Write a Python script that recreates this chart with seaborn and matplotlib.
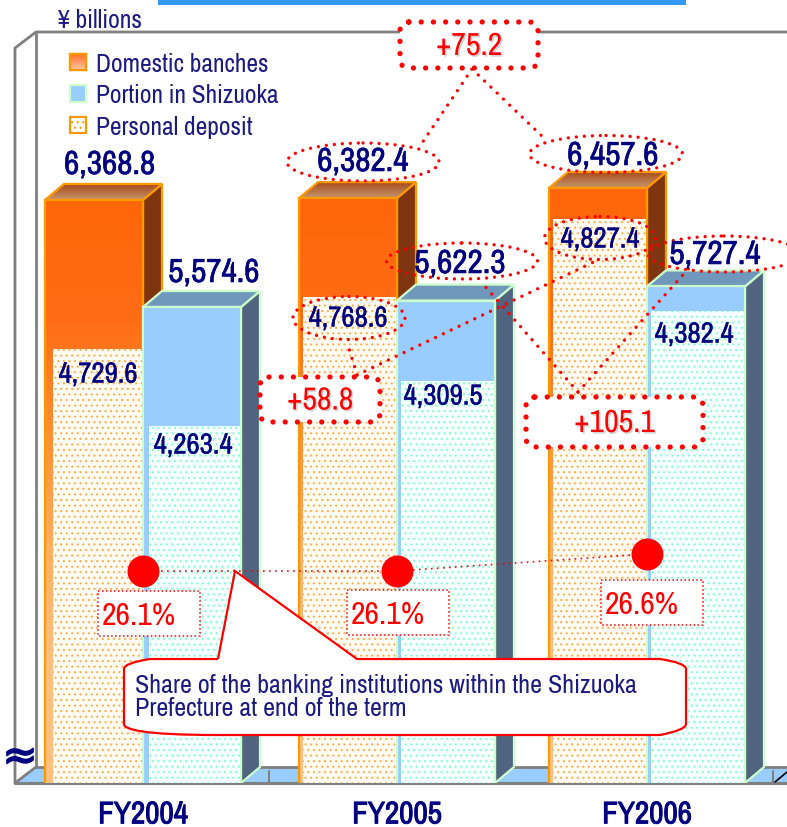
import matplotlib
matplotlib.use("Agg")
import matplotlib.pyplot as plt
import matplotlib.patheffects as pe
import numpy as np
import pandas as pd
import seaborn as sns
from matplotlib import font_manager as fm
from matplotlib.colors import LinearSegmentedColormap
from matplotlib.patches import Ellipse, FancyBboxPatch, PathPatch, Patch, Polygon, Rectangle
from matplotlib.path import Path

# Values in yen billions
years = ["FY2004", "FY2005", "FY2006"]
series_names = ["Domestic banches", "Portion in Shizuoka"]
personal_name = "Personal deposit"
domestic_total = [6368.8, 6382.4, 6457.6]
shizuoka_total = [5574.6, 5622.3, 5727.4]
domestic_personal = [4729.6, 4768.6, 4827.4]
shizuoka_personal = [4263.4, 4309.5, 4382.4]
share_pct = [26.1, 26.1, 26.6]
change_total = "+75.2"
change_shizuoka = "+105.1"
change_personal = "+58.8"
callout_text = ("Share of the banking institutions within the Shizuoka\n"
                "Prefecture at end of the term")

# Layout, in canvas pixels
W, H = 787, 828
BASE_PX = 784
group_x = [143, 397, 647]
BAR_W = 98
DEPTH_X = 19
DEPTH_Y = 16
dom_inset = [8, 4, 4]
shi_inset = [6, 4, 4]

NAVY = "#000080"
TEXT_NAVY = "#1A1A80"
RED = "#FF0000"
ORANGE_EDGE = "#FF9900"
GREEN_EDGE = "#CCFFCC"
BLUE = "#99CCFF"
GREY = "#808080"

sns.set_style("white")
installed = {f.name for f in fm.fontManager.ttflist}
NARROW = next((n for n in ["Liberation Sans Narrow", "Archivo Narrow", "Roboto Condensed",
                           "PT Sans Narrow", "Liberation Sans"] if n in installed), "DejaVu Sans")
plt.rcParams["font.family"] = [NARROW, "DejaVu Sans"]
plt.rcParams["hatch.linewidth"] = 0.8

fig = plt.figure(figsize=(W / 100, H / 100), dpi=100, facecolor="white")


def heavier(width):
    return [pe.withStroke(linewidth=width, foreground=NAVY)]


def full_canvas(z):
    a = fig.add_axes([0, 0, 1, 1], zorder=z)
    a.set_xlim(0, W)
    a.set_ylim(H, 0)
    a.axis("off")
    a.patch.set_alpha(0)
    return a


def value_axes(z, slope, ref_value, ref_px):
    """Axes over the plot area whose broken y scale puts ref_value at ref_px."""
    a = fig.add_axes([0, (H - BASE_PX) / H, 1, BASE_PX / H], zorder=z)
    a.patch.set_alpha(0)
    low = ref_value - (BASE_PX - ref_px) / slope
    a.set_ylim(low, low + BASE_PX / slope)
    a.set_xlim(0, W)
    return a


def gradient(a, clip, extent, stops, z):
    cmap = LinearSegmentedColormap.from_list("g", stops)
    xl, yl = a.get_xlim(), a.get_ylim()
    im = a.imshow(np.linspace(0, 1, 256)[:, None], extent=extent, cmap=cmap,
                  aspect="auto", origin="upper", zorder=z, interpolation="bilinear")
    im.set_clip_path(clip)
    a.set_xlim(xl)
    a.set_ylim(yl)


def bars(a, values, name):
    frame = pd.DataFrame({"x": group_x, "value": values, "group": name})
    before = len(a.patches)
    sns.barplot(data=frame, x="x", y="value", hue="group", hue_order=series_names,
                native_scale=True, width=2 * BAR_W / 250, dodge=True, errorbar=None,
                saturation=1, legend=False, ax=a)
    a.set_xlim(0, W)
    a.set_xlabel("")
    a.set_ylabel("")
    return [p for p in a.patches[before:] if p.get_height() > 0]


# Back wall, floor and axis lines
back = full_canvas(0)
back.add_patch(Rectangle((158, -2), 528, 8, fc="#3399FF", ec="none"))
back.add_patch(Polygon([(15, 784), (36, 768), (W, 768), (W, 784)], fc=BLUE, ec="none"))
back.plot([15, 15, 36, W], [784, 49, 33, 33], color=GREY, lw=2)
back.plot([36, 36], [33, 768], color=GREY, lw=2)
back.plot([36, W], [768, 768], color=GREY, lw=2)
back.plot([15, 36], [784, 768], color=GREY, lw=2)
back.plot([15, W], [784, 784], color=GREY, lw=2.2)
for tick_x in (269, 773):
    back.plot([tick_x, tick_x], [772, 784], color=GREY, lw=1.5)
back.plot([775, W], [783, 773], color="black", lw=1.2)

# Totals, drawn with their extruded faces
SLOPE = 0.1348
ax = value_axes(1, SLOPE, 5574.6, 308)
ylim_main = ax.get_ylim()
ax_low = ylim_main[0]
dy = DEPTH_Y / SLOPE

dom_bars = bars(ax, domestic_total, series_names[0])
shi_bars = bars(ax, shizuoka_total, series_names[1])
ax.set_ylim(ylim_main)

for p in dom_bars:
    x0, x1, v = p.get_x(), p.get_x() + p.get_width(), p.get_height()
    side = Polygon([(x1, ax_low), (x1 + DEPTH_X, ax_low + dy), (x1 + DEPTH_X, v + dy), (x1, v)],
                   fc="#7F3510", ec=ORANGE_EDGE, lw=1.6, zorder=2)
    cap = Polygon([(x0, v), (x1, v), (x1 + DEPTH_X, v + dy), (x0 + DEPTH_X, v + dy)],
                  fc="none", ec=ORANGE_EDGE, lw=1.6, zorder=2.2)
    ax.add_patch(side)
    ax.add_patch(cap)
    gradient(ax, cap, (x0, x1 + DEPTH_X, v, v + dy), ["#A8481A", "#C4986C"], 2.1)
    p.set_zorder(2.4)
    p.set_facecolor("none")
    p.set_edgecolor(ORANGE_EDGE)
    p.set_linewidth(1.6)
    gradient(ax, p, (x0, x1, ax_low, v),
             ["#FF660A", "#FF6C14", "#FF9030", "#FFB060", "#FFC080", "#FFC080"], 2.3)

for p in shi_bars:
    x0, x1, v = p.get_x(), p.get_x() + p.get_width(), p.get_height()
    side = Polygon([(x1, ax_low), (x1 + DEPTH_X, ax_low + dy), (x1 + DEPTH_X, v + dy), (x1, v)],
                   fc="#50647F", ec=GREEN_EDGE, lw=1.6, zorder=3)
    cap = Polygon([(x0, v), (x1, v), (x1 + DEPTH_X, v + dy), (x0 + DEPTH_X, v + dy)],
                  fc="#7098BC", ec=GREEN_EDGE, lw=1.6, zorder=3)
    ax.add_patch(side)
    ax.add_patch(cap)
    p.set_zorder(3.2)
    p.set_facecolor(BLUE)
    p.set_edgecolor(GREEN_EDGE)
    p.set_linewidth(1.6)

ax.set_xticks(group_x, years)
ax.set_yticks([])
ax.tick_params(axis="x", length=0, pad=12.5)
for lab in ax.get_xticklabels():
    lab.set_fontsize(22.5)
    lab.set_color(NAVY)
    lab.set_path_effects(heavier(0.7))
sns.despine(ax=ax, left=True, bottom=True)

# Personal deposits sit on their own broken scales, inset in each front face
ax_dom = value_axes(2, 1.33, 4729.6, 350)
lim = ax_dom.get_ylim()
for p, inset in zip(bars(ax_dom, domestic_personal, series_names[0]), dom_inset):
    p.set_x(p.get_x() + inset)
    p.set_width(p.get_width() - inset - 1)
    p.set_facecolor("#FFFCF6")
    p.set_hatch("...")
    p.set_edgecolor("#FFB04A")
    p.set_linewidth(0)
ax_dom.set_ylim(lim)
ax_dom.axis("off")

ax_shi = value_axes(3, 0.966, 4263.4, 427)
lim = ax_shi.get_ylim()
for p, inset in zip(bars(ax_shi, shizuoka_personal, series_names[1]), shi_inset):
    p.set_x(p.get_x() + inset)
    p.set_width(p.get_width() - inset - 1)
    p.set_facecolor("#F8FFFD")
    p.set_hatch("...")
    p.set_edgecolor("#80FFD8")
    p.set_linewidth(0)
ax_shi.set_ylim(lim)
ax_shi.axis("off")

# Share of the prefecture's banking institutions
ax_share = value_axes(4, 34, 26.1, 572)
lim = ax_share.get_ylim()
sns.lineplot(x=group_x, y=share_pct, color=RED, linestyle=(0, (1, 2.6)), linewidth=1.2,
             marker="o", markersize=23, markeredgewidth=0, ax=ax_share)
ax_share.set_ylim(lim)
ax_share.set_xlim(0, W)
ax_share.axis("off")

# Annotation layer
top = full_canvas(5)
shadow = [pe.withSimplePatchShadow(offset=(1.2, -1.2), shadow_rgbFace="#888888", alpha=0.35)]

links = [((472, 70), (420, 147)), ((472, 70), (545, 140)),
         ((357, 376), (347, 343)), ((357, 376), (600, 260)),
         ((578, 393), (483, 285)), ((578, 393), (690, 268))]
for a_pt, b_pt in links:
    top.plot([a_pt[0], b_pt[0]], [a_pt[1], b_pt[1]], color=RED, lw=2.4,
             linestyle=(0, (0.01, 2.6)), dash_capstyle="round", zorder=3)

ring_style = dict(fc="none", ec=RED, lw=2.4, linestyle=(0, (0.01, 2.4)),
                  capstyle="round", zorder=3)
for cx, cy, w, h in [(363, 163, 152, 38), (606, 155, 153, 37), (462, 262, 151, 36),
                     (724, 255, 152, 36), (349, 319, 112, 43), (600, 239, 111, 43)]:
    top.add_patch(Ellipse((cx, cy), w, h, **ring_style))

box_style = dict(boxstyle="round,pad=0,rounding_size=9", fc="white", ec=RED, lw=3.8,
                 linestyle=(0, (0.01, 2.3)), capstyle="round", zorder=4)
change_boxes = [(400, 23, 138, 46, change_total), (260, 378, 120, 45, change_personal),
                (526, 398, 177, 50, change_shizuoka)]
for bx, by, bw, bh, label in change_boxes:
    top.add_patch(FancyBboxPatch((bx, by), bw, bh, **box_style))
    top.text(bx + bw / 2, by + bh / 2 + 1, label, color=RED, fontsize=23, ha="center",
             va="center", zorder=5, path_effects=shadow)

total_pos = [(110, 166), (214, 274), (363, 163), (460, 265), (613, 157), (715, 256)]
total_vals = [domestic_total[0], shizuoka_total[0], domestic_total[1],
              shizuoka_total[1], domestic_total[2], shizuoka_total[2]]
for (tx, ty), v in zip(total_pos, total_vals):
    top.text(tx, ty, f"{v:,.1f}", color=NAVY, fontsize=24, ha="center", va="center",
             zorder=6, path_effects=heavier(0.4))

inner_pos = [(98, 375), (193, 446), (348, 319), (443, 397), (600, 240), (694, 335)]
inner_vals = [domestic_personal[0], shizuoka_personal[0], domestic_personal[1],
              shizuoka_personal[1], domestic_personal[2], shizuoka_personal[2]]
for (tx, ty), v in zip(inner_pos, inner_vals):
    top.text(tx, ty, f"{v:,.1f}", color=NAVY, fontsize=20.8, ha="center", va="center",
             zorder=6, path_effects=heavier(0.25))

share_boxes = [(98, 592), (347, 591), (601, 581)]
for (bx, by), s in zip(share_boxes, share_pct):
    top.add_patch(Rectangle((bx, by), 102, 45, fc="white", ec=RED, lw=1.1,
                            linestyle=(0, (1, 1.6)), zorder=4))
    top.text(bx + 41, by + 24, f"{s:.1f}%", color=RED, fontsize=23, ha="center",
             va="center", zorder=5)

# Speech bubble describing the share line
verts = [(218, 660), (235, 572), (357, 660), (660, 660),
         (686, 664), (686, 670), (686, 725), (686, 731), (660, 736),
         (218, 736), (140, 736), (124, 730), (124, 725), (124, 670), (124, 664), (150, 660), (218, 660)]
codes = [Path.MOVETO, Path.LINETO, Path.LINETO, Path.LINETO,
         Path.CURVE3, Path.CURVE3, Path.LINETO, Path.CURVE3, Path.CURVE3,
         Path.LINETO, Path.CURVE4, Path.CURVE4, Path.CURVE4, Path.LINETO, Path.CURVE3, Path.CURVE3, Path.LINETO]
top.add_patch(PathPatch(Path(verts, codes), fc="white", ec=RED, lw=1.6, zorder=7))
top.text(135, 697, callout_text, color=TEXT_NAVY, fontsize=18.75, ha="left", va="center",
         linespacing=1.0, zorder=8)

# Labels outside the plot area
top.text(58, 21, "¥ billions", color=TEXT_NAVY, fontsize=18.5, ha="left", va="center")
top.text(20, 758, "≈", color=NAVY, fontsize=30, ha="center", va="center",
         family=["DejaVu Sans"], path_effects=heavier(1.2))

handles = [Patch(fc="#FF8A50", ec=ORANGE_EDGE, lw=1.6, label=series_names[0]),
           Patch(fc=BLUE, ec=GREEN_EDGE, lw=1.6, label=series_names[1]),
           Patch(fc="white", ec=ORANGE_EDGE, lw=1.6, hatch="...", label=personal_name)]
leg = top.legend(handles=handles, loc="upper left", bbox_to_anchor=(70, 53),
                 bbox_transform=top.transData, frameon=False, fontsize=18.3,
                 handlelength=0.62, handleheight=0.62, handletextpad=0.42,
                 labelspacing=0.33, borderpad=0, borderaxespad=0)
for t in leg.get_texts():
    t.set_color(TEXT_NAVY)

# Graded fill on the first legend key
fig.canvas.draw()
key = leg.legend_handles[0].get_window_extent()
key_box = Rectangle((key.x0, H - key.y1), key.width, key.height, fc="none",
                    ec=ORANGE_EDGE, lw=1.6, zorder=6.2)
top.add_patch(key_box)
gradient(top, key_box, (key.x0, key.x1, H - key.y0, H - key.y1), ["#FF6A20", "#FFC8A8"], 6.1)

fig.savefig("out.png", dpi=100)
